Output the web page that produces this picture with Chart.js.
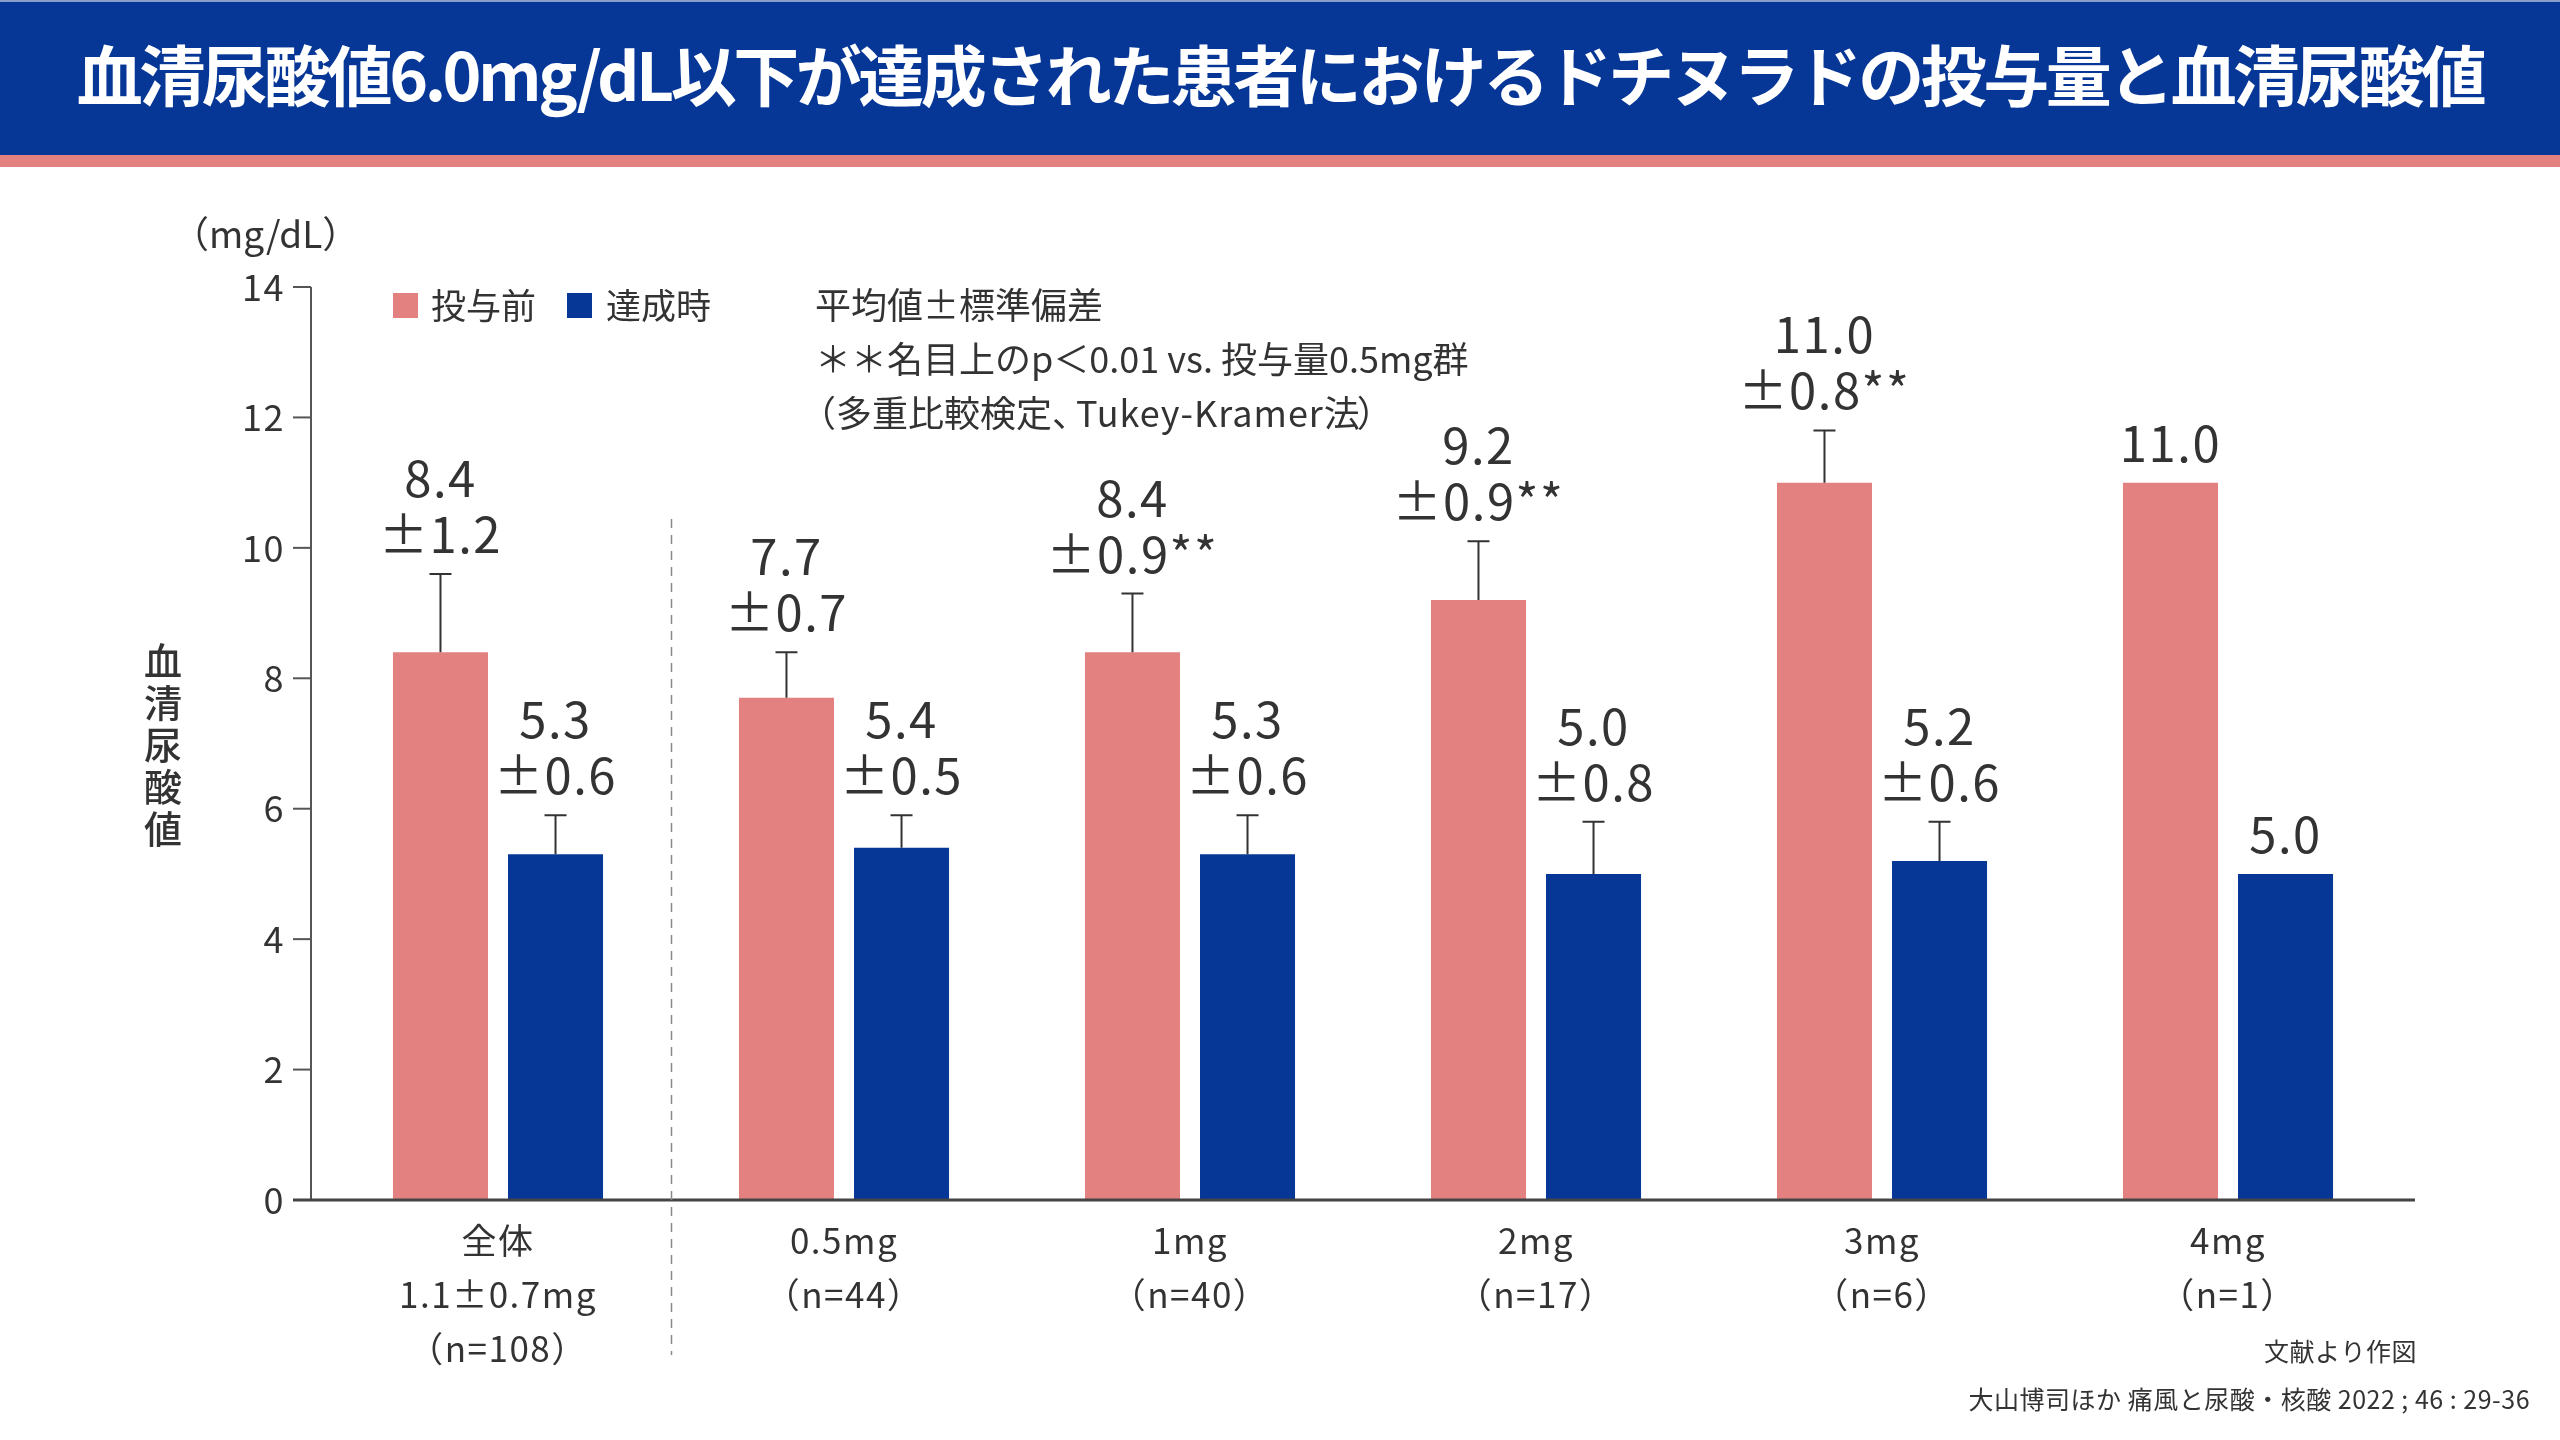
<!DOCTYPE html>
<html lang="ja">
<head>
<meta charset="utf-8">
<script src="https://cdn.jsdelivr.net/npm/chart.js@4.4.1/dist/chart.umd.min.js"></script>
<style>
html, body { margin: 0; padding: 0; background: #fff; }
#wrap { position: relative; width: 2560px; height: 1440px; overflow: hidden; font-family: "Noto Sans CJK JP", sans-serif; }
#title { position: absolute; left: 0; top: 0; width: 2560px; height: 155px; background: #063797; border-top: 2px solid #8a9cc9; box-sizing: border-box; color: #fff; font-weight: bold; font-size: 66px; letter-spacing: -3.5px; line-height: 141px; text-align: center; z-index: 2; white-space: nowrap; }
#stripe { position: absolute; left: 0; top: 155px; width: 2560px; height: 12px; background: #e38080; z-index: 2; }
#chart { position: absolute; left: 0; top: 0; }
</style>
</head>
<body>
<div id="wrap">
  <div id="title">血清尿酸値6.0mg/dL以下が達成された患者におけるドチヌラドの投与量と血清尿酸値</div>
  <div id="stripe"></div>
  <canvas id="chart" width="2560" height="1440"></canvas>
</div>
<script>
// data
const categories = [
  ["全体", "1.1±0.7mg", "（n=108）"],
  ["0.5mg", "（n=44）"],
  ["1mg", "（n=40）"],
  ["2mg", "（n=17）"],
  ["3mg", "（n=6）"],
  ["4mg", "（n=1）"],
];
const beforeValues = [8.4, 7.7, 8.4, 9.2, 11.0, 11.0];
const beforeSD = [1.2, 0.7, 0.9, 0.9, 0.8, null];
const beforeMarks = ["", "", "**", "**", "**", ""];
const afterValues = [5.3, 5.4, 5.3, 5.0, 5.2, 5.0];
const afterSD = [0.6, 0.5, 0.6, 0.8, 0.6, null];
const afterMarks = ["", "", "", "", "", ""];
const yTicks = [0, 2, 4, 6, 8, 10, 12, 14];

const PINK = "#e38080";
const BLUE = "#063797";
const TEXT = "#333333";
const FONT = '"Noto Sans CJK JP", sans-serif';

const sdList = [beforeSD, afterSD];
const markList = [beforeMarks, afterMarks];

// the reference numbers are set a little loose
const spacing = {
  id: "spacing",
  beforeDraw(chart) {
    chart.ctx.letterSpacing = "1.5px";
  },
};

// Extra drawing: axes, error bars, value labels, legend, notes
const decor = {
  id: "decor",
  afterDatasetsDraw(chart) {
    const ctx = chart.ctx;
    const x = chart.scales.x;
    const y = chart.scales.y;
    const area = chart.chartArea;
    const axisLeft = area.left - 14;
    const axisRight = area.right + 14;
    const y0 = y.getPixelForValue(0);

    ctx.save();

    // y axis
    ctx.strokeStyle = "#555";
    ctx.lineWidth = 2;
    ctx.beginPath();
    ctx.moveTo(axisLeft, y.getPixelForValue(yTicks[yTicks.length - 1]));
    ctx.lineTo(axisLeft, y0);
    ctx.stroke();
    yTicks.forEach(v => {
      const py = y.getPixelForValue(v);
      ctx.beginPath();
      ctx.moveTo(axisLeft - 18, py);
      ctx.lineTo(axisLeft, py);
      ctx.stroke();
    });

    // x axis
    ctx.strokeStyle = "#444";
    ctx.lineWidth = 3;
    ctx.beginPath();
    ctx.moveTo(axisLeft - 18, y0);
    ctx.lineTo(axisRight, y0);
    ctx.stroke();

    // dashed separator between 全体 and the dose groups
    const sepX = Math.round((x.getPixelForValue(0) + x.getPixelForValue(1)) / 2) + 0.5;
    ctx.strokeStyle = "#888";
    ctx.lineWidth = 1.5;
    ctx.setLineDash([9, 7]);
    ctx.beginPath();
    ctx.moveTo(sepX, 519);
    ctx.lineTo(sepX, 1355);
    ctx.stroke();
    ctx.setLineDash([]);

    // error bars + labels
    chart.data.datasets.forEach((ds, i) => {
      const meta = chart.getDatasetMeta(i);
      meta.data.forEach((bar, j) => {
        const val = ds.data[j];
        const sd = sdList[i][j];
        let topY = y.getPixelForValue(val);
        if (sd != null) {
          const ey = y.getPixelForValue(val + sd);
          ctx.strokeStyle = "#333";
          ctx.lineWidth = 2;
          ctx.beginPath();
          ctx.moveTo(bar.x, topY);
          ctx.lineTo(bar.x, ey);
          ctx.moveTo(bar.x - 11, ey);
          ctx.lineTo(bar.x + 11, ey);
          ctx.stroke();
          topY = ey;
        }
        const lines = [val.toFixed(1)];
        if (sd != null) lines.push("±" + sd.toFixed(1) + markList[i][j]);
        ctx.fillStyle = TEXT;
        ctx.font = "49px " + FONT;
        ctx.letterSpacing = "1.5px";
        ctx.textAlign = "center";
        ctx.textBaseline = "alphabetic";
        let by = topY - 21;
        for (let k = lines.length - 1; k >= 0; k--) {
          ctx.fillText(lines[k], bar.x, by);
          by -= 56;
        }
      });
    });

    // legend
    ctx.letterSpacing = "0px";
    ctx.textBaseline = "middle";
    ctx.textAlign = "left";
    ctx.font = "35px " + FONT;
    ctx.fillStyle = PINK;
    ctx.fillRect(393, 293, 25, 25);
    ctx.fillStyle = TEXT;
    ctx.fillText("投与前", 431, 306);
    ctx.fillStyle = BLUE;
    ctx.fillRect(567, 293, 25, 25);
    ctx.fillStyle = TEXT;
    ctx.fillText("達成時", 606, 306);

    // notes
    ctx.font = "36px " + FONT;
    ctx.fillText("平均値±標準偏差", 815, 305);
    ctx.fillText("＊＊名目上のp＜0.01 vs. 投与量0.5mg群", 815, 359);
    // third line uses half-width brackets / comma
    let nx = 836;
    ctx.fillText("（", nx - 36, 413);
    ctx.fillText("多重比較検定", nx, 413);
    nx += ctx.measureText("多重比較検定").width;
    ctx.fillText("、", nx, 413);
    nx += 24;
    ctx.letterSpacing = "1px";
    ctx.fillText("Tukey-Kramer法", nx, 413);
    nx += ctx.measureText("Tukey-Kramer法").width;
    ctx.letterSpacing = "0px";
    ctx.fillText("）", nx - 4, 413);

    // unit
    ctx.font = "37px " + FONT;
    ctx.fillText("（mg/dL）", 172, 234);

    // y axis title (vertical)
    ctx.font = "500 38px " + FONT;
    ctx.textAlign = "center";
    const yTitle = "血清尿酸値";
    for (let k = 0; k < yTitle.length; k++) {
      ctx.fillText(yTitle[k], 163, 661 + k * 42);
    }

    // source
    ctx.letterSpacing = "0.5px";
    ctx.font = "25px " + FONT;
    ctx.textAlign = "right";
    ctx.fillText("文献より作図", 2417, 1351);
    ctx.fillText("大山博司ほか 痛風と尿酸・核酸 2022 ; 46 : 29-36", 2530, 1399);

    ctx.restore();
  },
};

const ctx = document.getElementById("chart");

new Chart(ctx, {
  type: "bar",
  data: {
    labels: categories,
    datasets: [
      {
        label: "投与前",
        data: beforeValues,
        backgroundColor: PINK,
        categoryPercentage: 0.665,
        barPercentage: 0.826,
      },
      {
        label: "達成時",
        data: afterValues,
        backgroundColor: BLUE,
        categoryPercentage: 0.665,
        barPercentage: 0.826,
      },
    ],
  },
  options: {
    responsive: false,
    animation: false,
    devicePixelRatio: 1,
    layout: {
      padding: { top: 287, right: 159, left: 0, bottom: 0 },
    },
    plugins: {
      legend: { display: false },
      tooltip: { enabled: false },
    },
    scales: {
      x: {
        grid: { display: false, drawTicks: false },
        border: { display: false },
        ticks: {
          color: TEXT,
          padding: 14,
          font: { family: FONT, size: 35, lineHeight: 54 / 35 },
          maxRotation: 0,
          autoSkip: false,
        },
        afterFit(scale) {
          scale.height = 240;
        },
      },
      y: {
        min: 0,
        max: 14,
        grid: { display: false, drawTicks: false },
        border: { display: false },
        ticks: {
          stepSize: 2,
          color: TEXT,
          padding: 40,
          font: { family: FONT, size: 36 },
        },
        afterFit(scale) {
          scale.width = 325;
        },
      },
    },
  },
  plugins: [spacing, decor],
});
</script>
</body>
</html>
